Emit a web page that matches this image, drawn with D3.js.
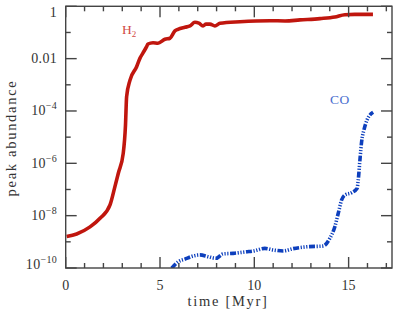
<!DOCTYPE html>
<html>
<head>
<meta charset="utf-8">
<script src="https://cdn.jsdelivr.net/npm/d3@7"></script>
<style>
  body { margin: 0; background: #fff; }
  text { font-family: "Liberation Serif", "DejaVu Serif", serif; fill: #333; }
</style>
</head>
<body>
<svg id="chart" width="415" height="315"></svg>
<script>
// time [Myr] and log10(peak abundance)
const h2Time = [0.05, 0.58, 1.29, 1.82, 2.35, 2.61, 2.79, 3.05, 3.17, 3.23, 3.41, 3.76, 3.94, 4.10, 4.29, 4.36, 4.63, 4.89, 5.26, 5.53, 5.79, 5.95, 6.32, 6.59, 6.85, 7.06, 7.28, 7.44, 7.65, 7.91, 8.18, 9.24, 10.83, 11.63, 12.42, 13.48, 14.27, 14.80, 15.33, 16.29];
const h2Log = [-8.80, -8.70, -8.43, -8.10, -7.59, -6.89, -6.38, -5.62, -4.54, -3.45, -2.82, -2.31, -1.98, -1.78, -1.54, -1.44, -1.39, -1.41, -1.26, -1.22, -0.94, -0.88, -0.80, -0.75, -0.61, -0.64, -0.75, -0.68, -0.68, -0.75, -0.65, -0.59, -0.55, -0.56, -0.52, -0.47, -0.41, -0.32, -0.31, -0.31];

const coTime = [5.62, 5.97, 6.32, 6.76, 7.12, 7.56, 7.97, 8.35, 8.88, 9.59, 9.94, 10.56, 11.0, 11.53, 12.06, 12.77, 13.65, 14.01, 14.27, 14.45, 14.63, 14.80, 15.16, 15.45, 15.51, 15.60, 15.69, 15.81, 15.98, 16.30];
const coLog = [-10.01, -9.76, -9.66, -9.54, -9.50, -9.57, -9.63, -9.46, -9.44, -9.38, -9.35, -9.25, -9.31, -9.35, -9.26, -9.19, -9.16, -8.86, -8.42, -7.91, -7.40, -7.21, -7.12, -6.95, -6.64, -5.87, -5.17, -4.73, -4.34, -4.05];

const xMajor = [0, 5, 10, 15];
const yMajorExp = [0, -2, -4, -6, -8, -10];

const svg = d3.select("#chart");
const pLeft = 65.7, pRight = 392, pTop = 6.3, pBottom = 268;

let x = d3.scaleLinear().domain([0, 17.3]).range([pLeft, pRight]);
let y = d3.scaleLog().domain([1e-10, 1]).range([pBottom, pTop]);

svg.append("clipPath").attr("id", "clip")
  .append("rect").attr("x", pLeft).attr("y", pTop).attr("width", pRight - pLeft).attr("height", pBottom - pTop);

let line = d3.line()
  .x(d => x(d[0]))
  .y(d => y(Math.pow(10, d[1])))
  .curve(d3.curveMonotoneX);

let plot = svg.append("g").attr("clip-path", "url(#clip)");

plot.append("path")
  .attr("d", line(h2Time.map((t, i) => [t, h2Log[i]])))
  .attr("fill", "none")
  .attr("stroke", "#c0160e")
  .attr("stroke-width", 3.6)
  .attr("stroke-linejoin", "round");

plot.append("path")
  .attr("d", line(coTime.map((t, i) => [t, coLog[i]])))
  .attr("fill", "none")
  .attr("stroke", "#0d3fbd")
  .attr("stroke-width", 3.6)
  .attr("stroke-dasharray", "6,1.6,1.2,1.6,1.2,1.6,1.2,1.6");

// frame and ticks, all pointing inward
let frame = svg.append("g").attr("stroke", "#444").attr("stroke-width", 1.4);
frame.append("rect").attr("x", pLeft).attr("y", pTop).attr("width", pRight - pLeft).attr("height", pBottom - pTop).attr("fill", "none");

d3.range(0, 18).forEach(t => {
  let len = t % 5 === 0 ? 11 : 5;
  frame.append("line").attr("x1", x(t)).attr("x2", x(t)).attr("y1", pBottom).attr("y2", pBottom - len);
  frame.append("line").attr("x1", x(t)).attr("x2", x(t)).attr("y1", pTop).attr("y2", pTop + len);
});

d3.range(-10, 1).forEach(e => {
  let len = e % 2 === 0 ? 11 : 5;
  frame.append("line").attr("y1", y(Math.pow(10, e))).attr("y2", y(Math.pow(10, e))).attr("x1", pLeft).attr("x2", pLeft + len);
  frame.append("line").attr("y1", y(Math.pow(10, e))).attr("y2", y(Math.pow(10, e))).attr("x1", pRight).attr("x2", pRight - len);
});

// tick labels
svg.selectAll(".xl").data(xMajor).enter().append("text")
  .attr("x", d => x(d))
  .attr("y", 290)
  .attr("text-anchor", "middle")
  .attr("font-size", 14)
  .text(d => d);

yMajorExp.forEach(e => {
  let yy = Math.min(Math.max(y(Math.pow(10, e)), 12), 264) + 4.5;
  let t = svg.append("text").attr("x", 57).attr("y", yy).attr("text-anchor", "end").attr("font-size", 14).attr("letter-spacing", 0.3);
  if (e === 0) t.text("1");
  else if (e === -2) t.text("0.01");
  else {
    t.append("tspan").text("10");
    t.append("tspan").attr("dy", -6).attr("font-size", 10).text("\u2212" + (-e));
  }
});

svg.append("text")
  .attr("x", 228).attr("y", 306)
  .attr("text-anchor", "middle")
  .attr("font-size", 14.5)
  .attr("letter-spacing", 1.7)
  .text("time [Myr]");

svg.append("text")
  .attr("transform", "translate(16,138) rotate(-90)")
  .attr("text-anchor", "middle")
  .attr("font-size", 14.5)
  .attr("letter-spacing", 1.7)
  .text("peak abundance");

let h2Label = svg.append("text").attr("x", 122).attr("y", 34).attr("font-size", 13.5).style("fill", "#d24a44");
h2Label.append("tspan").text("H");
h2Label.append("tspan").attr("dy", 3).attr("font-size", 9).text("2");

svg.append("text").attr("x", 330).attr("y", 104).attr("font-size", 13.5).attr("letter-spacing", 0.5).style("fill", "#4a6fd0").text("CO");
</script>
</body>
</html>
